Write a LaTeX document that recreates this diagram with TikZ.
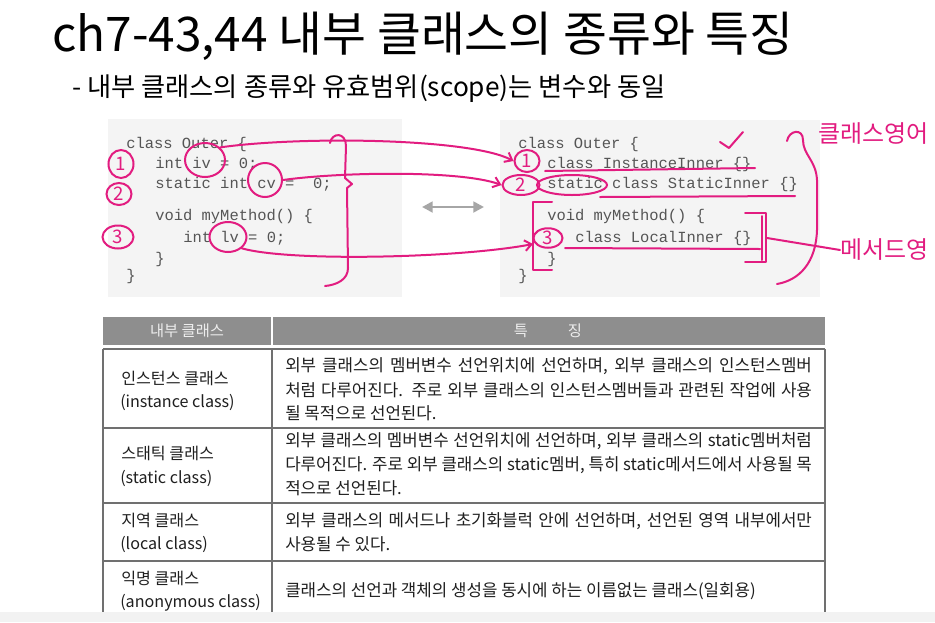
\documentclass[tikz,border=0pt]{standalone}
\usepackage{fontspec}
\newfontfamily\kr{Noto Sans CJK KR}
\setmonofont{Liberation Mono}
\usetikzlibrary{arrows.meta,shapes.geometric}
\definecolor{penpink}{RGB}{226,28,128}
\definecolor{codebg}{RGB}{244,244,244}
\definecolor{codefg}{RGB}{85,85,85}
\definecolor{hdr}{RGB}{142,142,142}
\definecolor{rulegray}{RGB}{112,112,112}
\newcommand\fullline[1]{\hbox to 395pt{#1}}
\begin{document}
\begin{tikzpicture}[x=0.75pt,y=-0.75pt,
 code/.style={font=\ttfamily\fontsize{11.6}{14}\selectfont, text=codefg, anchor=base west, inner sep=0pt},
 cell/.style={font=\kr\fontsize{12.6}{14}\selectfont, anchor=base west, inner sep=0pt, text=black!88},
 namecell/.style={font=\kr\fontsize{12.1}{14}\selectfont, anchor=base west, inner sep=0pt, text=black!88},
 ink/.style={draw=penpink, line width=1.5pt, line cap=round, line join=round},
 circnum/.style={ellipse, draw=penpink, line width=1.5pt, inner sep=0pt, text=penpink, font=\kr\fontsize{14}{14}\selectfont},
 ringmark/.style={ellipse, draw=penpink, line width=1.5pt, inner sep=0pt},
 inkarrow/.style={ink, -{Straight Barb[length=5pt,width=8pt]}},
 handtext/.style={font=\kr\fontsize{18}{20}\selectfont, text=penpink, inner sep=0pt, anchor=west},
 tline/.style={draw=rulegray, line width=0.8pt}]
\path[use as bounding box] (0,0) rectangle (935,622);
\fill[white] (0,0) rectangle (935,622);

% titles
\node[anchor=base west, inner sep=0pt, font=\kr\fontsize{35.8}{40}\selectfont] (title) at (52,51) {ch7-43,44 내부 클래스의 종류와 특징};
\node[anchor=base west, inner sep=0pt, font=\kr\fontsize{19.7}{22}\selectfont] (subtitle) at (72,96) {- 내부 클래스의 종류와 유효범위(scope)는 변수와 동일};

% code boxes
\fill[codebg] (108,119) rectangle (402,297);
\fill[codebg] (500,120) rectangle (820,297);

\node[code] (l1c) at (126,148) {class Outer \{};
\node[code] (l2c) at (155,168) {int iv = 0;};
\node[code] (l3c) at (155,188) {static int cv =\ \ 0;};
\node[code] (l4c) at (155,220) {void myMethod() \{};
\node[code] (l5c) at (183,242) {int lv = 0;};
\node[code] (l6c) at (155,263) {\}};
\node[code] (l7c) at (126,280) {\}};

\node[code] (r1c) at (518,148) {class Outer \{};
\node[code] (r2c) at (547,168) {class InstanceInner \{\}};
\node[code] (r3c) at (547,188) {static class StaticInner \{\}};
\node[code] (r4c) at (547,220) {void myMethod() \{};
\node[code] (r5c) at (575,242) {class LocalInner \{\}};
\node[code] (r6c) at (547,263) {\}};
\node[code] (r7c) at (518,280) {\}};

% middle double arrow
\coordinate (da) at (422,207);
\coordinate (db) at (484,207);
\draw[gray!70, line width=2pt, {Triangle[length=8pt,width=8pt]}-{Triangle[length=8pt,width=8pt]}] (da) -- (db);

% table
\fill[hdr] (103,317) rectangle (825,345);
\draw[white, line width=0.8pt] (272,317) -- (272,345);
\node[font=\kr\fontsize{11.5}{14}\selectfont, text=white!93!black] (h1) at (187,331) {내부 클래스};
\node[font=\kr\fontsize{11.5}{14}\selectfont, text=white!93!black] (h2) at (548,331) {특\hspace{30pt}징};

\fill[gray!10] (0,612) rectangle (935,622);
\draw[tline] (103,349) -- (825,349);
\draw[tline] (103,428) -- (825,428);
\draw[tline] (103,503) -- (825,503);
\draw[tline] (103,561) -- (825,561);
\draw[tline] (103,349) -- (103,612);
\draw[tline] (272,349) -- (272,612);
\draw[tline] (825,349) -- (825,612);

\node[namecell] (c1a) at (121,384) {인스턴스 클래스};
\node[namecell] (c1b) at (120,407) {(instance class)};
\node[namecell] (c2a) at (121,459) {스태틱 클래스};
\node[namecell] (c2b) at (120,483) {(static class)};
\node[namecell] (c3a) at (121,526) {지역 클래스};
\node[namecell] (c3b) at (120,549) {(local class)};
\node[namecell] (c4a) at (121,584) {익명 클래스};
\node[namecell] (c4b) at (120,607) {(anonymous class)};

\node[cell] (d1a) at (285,371) {\fullline{외부 클래스의 멤버변수 선언위치에 선언하며, 외부 클래스의 인스턴스멤버}};
\node[cell] (d1b) at (285,396) {\fullline{처럼 다루어진다. 주로 외부 클래스의 인스턴스멤버들과 관련된 작업에 사용}};
\node[cell] (d1c) at (285,419) {될 목적으로 선언된다.};
\node[cell] (d2a) at (285,446) {\fullline{외부 클래스의 멤버변수 선언위치에 선언하며, 외부 클래스의 static멤버처럼}};
\node[cell] (d2b) at (285,470) {\fullline{다루어진다. 주로 외부 클래스의 static멤버, 특히 static메서드에서 사용될 목}};
\node[cell] (d2c) at (285,494) {적으로 선언된다.};
\node[cell] (d3a) at (285,526) {\fullline{외부 클래스의 메서드나 초기화블럭 안에 선언하며, 선언된 영역 내부에서만}};
\node[cell] (d3b) at (285,550) {사용될 수 있다.};
\node[cell] (d4a) at (285,596) {클래스의 선언과 객체의 생성을 동시에 하는 이름없는 클래스(일회용)};

% ---- handwritten annotations ----
\node[circnum, minimum width=18.75pt, minimum height=21pt] (n1) at (121,164) {1};
\node[circnum, minimum width=18.75pt, minimum height=16.5pt] (n2) at (119,194) {2};
\node[circnum, minimum width=23.25pt, minimum height=17.25pt] (n3) at (118,237) {3};

\node[ringmark, minimum width=30pt, minimum height=25.5pt] (iv) at (205,160) {};
\node[ringmark, minimum width=25.5pt, minimum height=25.5pt] (cv) at (265,180) {};
\node[ringmark, minimum width=27.75pt, minimum height=22.5pt] (lv) at (228,237) {};

\node[circnum, minimum width=18.75pt, minimum height=16.5pt] (m1) at (527,161) {1};
\node[circnum, minimum width=27.75pt, minimum height=15pt] (m2) at (521,185) {2};
\node[circnum, minimum width=21.75pt, minimum height=14.25pt] (m3) at (548,238) {3};
\node[ringmark, minimum width=52.5pt, minimum height=15pt] (st) at (572,185) {};

% left brace
\draw[ink] (330,143) .. controls (332,132) and (346,132) .. (346,146)
  -- (345,178) -- (352,184) -- (347,188) -- (348,268)
  .. controls (348,280) and (336,285) .. (325,286);

% arrows from variables to inner classes
\coordinate (lb) at (533,244);
\draw[inkarrow] (iv.40) .. controls (300,136) and (470,138) .. (m1.west);
\draw[inkarrow] (cv.east) .. controls (340,172) and (460,170) .. (m2.west);
\draw[inkarrow] (lv.south east) .. controls (290,262) and (460,258) .. (lb);

% right side marks
\draw[ink] (720,142) -- (729,148) -- (743,132);
\draw[ink] (545,171) -- (755,168);
\draw[ink] (600,197) -- (795,196);
\draw[ink] (552,202) -- (533,202) -- (533,270) -- (552,270);
\draw[ink] (565,248) -- (760,249);
\draw[ink] (745,213) -- (766,213) -- (766,262) -- (745,262);
\draw[ink] (762,216) -- (762,260);

% big right brace
\draw[ink] (787,141) .. controls (789,130) and (803,128) .. (803,140)
  .. controls (803,155) and (816,160) .. (817,180) -- (817,230)
  .. controls (816,262) and (800,280) .. (777,284);

\coordinate (rb) at (767,238);
\node[handtext] (classarea) at (818,134) {클래스영어};
\node[handtext] (methodarea) at (840,250) {메서드영};
\draw[ink] (rb) -- (methodarea.west);
\end{tikzpicture}
\end{document}
